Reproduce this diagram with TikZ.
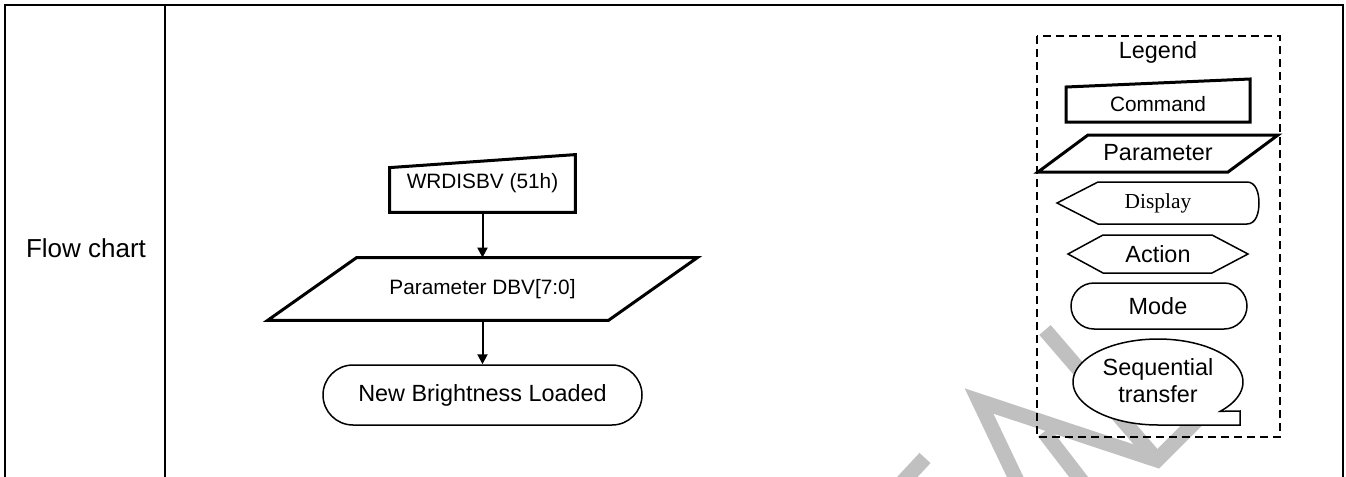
\documentclass[tikz,border=0pt]{standalone}
\usepackage{fontspec}
\setmainfont{Liberation Sans}
\newfontfamily\keyserif{Liberation Serif}
\usetikzlibrary{arrows.meta}
\definecolor{wmgray}{RGB}{192,192,192}

\begin{document}
\begin{tikzpicture}[x=.5pt,y=-.5pt,font=\fontsize{11.7}{13.5}\selectfont,
sm/.style={font=\fontsize{10.4}{12}\selectfont},
tab/.style={line width=1.2pt},
thick box/.style={line width=1.5pt,line join=miter,fill=white},
thin box/.style={line width=.75pt,fill=white},
arr/.style={-{Triangle[length=5pt,width=5pt]},line width=1pt},
wm/.style={draw=wmgray,line width=7.5pt},
slot/.style={inner sep=0pt}]
\useasboundingbox (0,0) rectangle (1346,477);

% watermark pieces
\draw[wm] (898,487)--(925,458);
\draw[wm] (1019,485)--(979,401)--(1157,460)--(1215,402);
\draw[wm] (1045,330)--(1157,460);
\draw[wm] (1044,432)--(1084,484);

% table frame
\draw[tab] (5,477)--(5,5)--(1343,5)--(1343,477);
\draw[tab] (165,5)--(165,477);
\node[font=\fontsize{13}{15}\selectfont] (title) at (86,248) {Flow chart};

% flow
\node[slot,sm,minimum width=92.5pt,minimum height=28.5pt] (wrd) at (482.5,183.5) {WRDISBV (51h)};
\draw[thick box] (wrd.south west)--(wrd.south east)--(wrd.north east)--([yshift=-6.5pt]wrd.north west)--cycle;
\node[slot,sm] at (wrd) {WRDISBV (51h)};
\node[slot,sm,minimum width=214.5pt,minimum height=31pt] (dbv) at (482.5,289) {Parameter DBV[7:0]};
\draw[thick box] ([xshift=44.5pt]dbv.north west)--(dbv.north east)--([xshift=-44.5pt]dbv.south east)--(dbv.south west)--cycle;
\node[slot,sm] at (dbv) {Parameter DBV[7:0]};
\node[draw,thin box,rounded corners=15pt,minimum width=159.5pt,minimum height=30pt] (nbl) at (482.5,395) {New Brightness Loaded};
\draw[arr] (wrd)--(dbv);
\draw[arr] (dbv)--(nbl);

% legend
\draw[line width=.8pt,dash pattern=on 4pt off 2.5pt] (1037,36) rectangle (1280,437);
\node (tleg) at (1158,52) {Legend};
\draw[thick box] (1066,87)--(1250,79)--(1250,122)--(1066,122)--cycle;
\node[sm] (tcmd) at (1158,104) {Command};
\draw[thick box] (1088,135)--(1278,135)--(1228,172)--(1038,172)--cycle;
\node (tpar) at (1158,153) {Parameter};
\draw[thin box] (1057,203)--(1098,182)--(1247,182) .. controls (1256,182) and (1259,193) .. (1259,203)
  .. controls (1259,213) and (1256,224) .. (1247,224)--(1098,224)--cycle;
\node[font=\keyserif\fontsize{10.7}{12}\selectfont] (tdis) at (1158,203) {Display};
\draw[thin box] (1068,254)--(1103,235)--(1212,235)--(1248,254)--(1212,273)--(1103,273)--cycle;
\node (tact) at (1158,254) {Action};
\draw[thin box,rounded corners=11.5pt] (1071,283) rectangle (1247,329);
\node (tmode) at (1158,306) {Mode};
\draw[thin box] plot[domain=90:403,samples=90] ({1158+85*cos(\x)},{382+43*sin(\x)})--(1240,411)--(1240,425)--cycle;
\node[align=center] (tseq) at (1158,381) {Sequential\\transfer};
\end{tikzpicture}
\end{document}
